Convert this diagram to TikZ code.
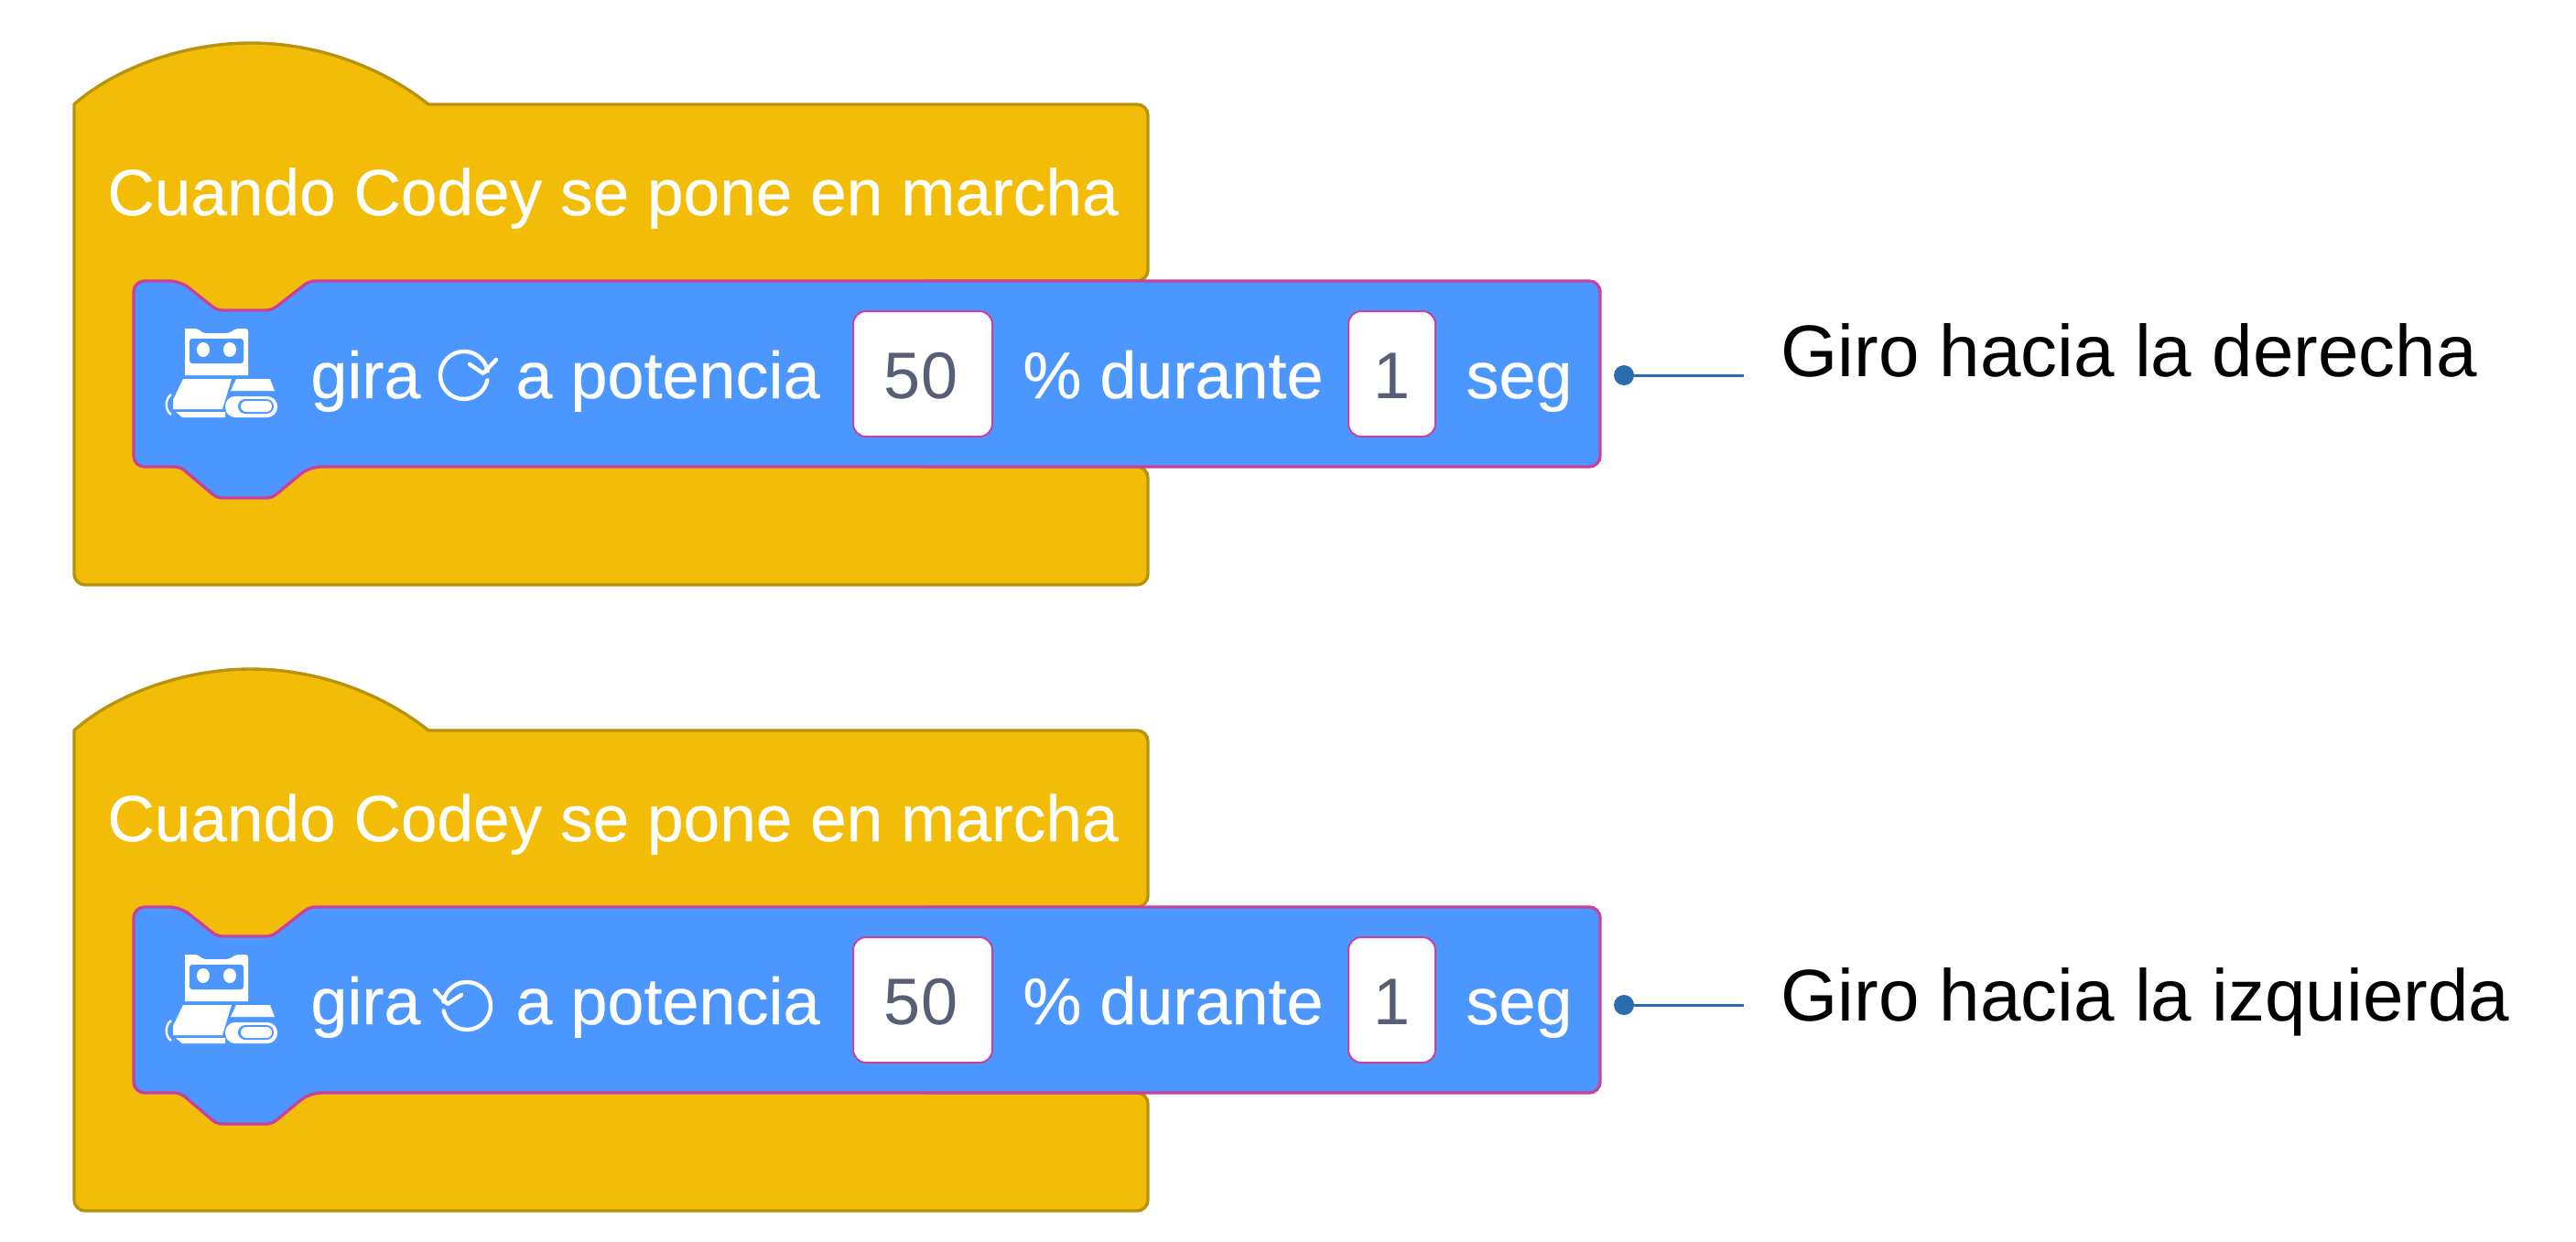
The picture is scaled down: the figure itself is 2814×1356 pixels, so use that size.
\documentclass[tikz,border=0pt]{standalone}
\usepackage{fontspec}
\setmainfont{Liberation Sans}
\definecolor{hatFill}{HTML}{F3BD07}
\definecolor{hatEdge}{HTML}{B8930F}
\definecolor{motionFill}{HTML}{4C97FF}
\definecolor{motionEdge}{HTML}{C7429C}
\definecolor{numberText}{HTML}{575E75}
\definecolor{noteLine}{HTML}{2B6CAF}

\begin{document}
\begin{tikzpicture}[x=0.5pt,y=-0.5pt,%%
  hatStyle/.style={fill=hatFill,draw=hatEdge,line width=1.7pt,rounded corners=6pt},%%
  motionStyle/.style={fill=motionFill,draw=motionEdge,line width=1.7pt,rounded corners=6pt},%%
  blockText/.style={text=white,inner sep=0pt,anchor=base west,font=\fontsize{36}{40}\selectfont\addfontfeature{FakeBold=0.3}},%%
  titleText/.style={blockText,font=\fontsize{35.6}{40}\selectfont},%%
  inputStyle/.style={fill=white,draw=motionEdge,line width=1pt,rounded corners=7pt,inner sep=0pt,minimum height=68.5pt},%%
  numberStyle/.style={text=numberText,inner sep=0pt,anchor=base,font=\fontsize{36}{40}\selectfont},%%
  noteText/.style={inner sep=0pt,anchor=base west,font=\fontsize{40}{44}\selectfont},%%
  noteDot/.style={circle,fill=noteLine,inner sep=0pt,minimum size=11pt},%%
  noteLineStyle/.style={draw=noteLine,line width=1.5pt},%%
  iconStyle/.style={fill=white,draw=none},%%
  iconHole/.style={fill=motionFill,draw=none},%%
  turnStyle/.style={draw=white,line width=2.2pt,line cap=round,line join=round}%%
]
\useasboundingbox (0,0) rectangle (2814,1356);
%%
%% One pass per block: suffix, offset, turn sign and centre, note text and heights.
\foreach \name/\dy/\turn/\turnX/\turnY/\note/\noteY/\dotY in {%
    A/0/1/507/410/Giro hacia la derecha/411/410,%
    B/684/-1/510/415/Giro hacia la izquierda/1115/414}{
\begin{scope}[yshift=-\dy*0.5pt]
%% Yellow hat block; the cut behind the blue block stays hidden.
\draw[hatStyle] (81,114) [sharp corners] .. controls (125,75) and (200,47) .. (274,47)
  .. controls (345,47) and (415,72) .. (468,114) [rounded corners=6pt] -- (1254,114) -- (1254,307)
  -- (1000,307) -- (1000,510) -- (1254,510) -- (1254,639) -- (81,639) [sharp corners] -- cycle;
%% Blue motion block, notch on top and bump below.
\draw[motionStyle] (146,307) -- (197,307) [rounded corners=3pt] -- (237,339) -- (297,339) -- (338,307)
  [rounded corners=6pt] -- (1748,307) -- (1748,510) -- (338,510) [rounded corners=3pt] -- (297,544)
  -- (237,544) -- (197,510) [rounded corners=6pt] -- (146,510) -- cycle;
\node[blockText,font=\fontsize{35.6}{40}\selectfont\addfontfeature{FakeBold=0.3}] (title\name) at (117,235) {Cuando Codey se pone en marcha};
%% Robot icon.
\fill[iconStyle] (202,359) [rounded corners=1.5pt] -- (216,359) -- (222,364) -- (250,364) -- (258,359)
  -- (271,359) [sharp corners] -- (271,410) -- (202,410) -- cycle;
\fill[iconHole,rounded corners=1.5pt] (207,370) rectangle (266,397);
\fill[iconStyle] (222,382) ellipse (7 and 8) (251,382) ellipse (7 and 8);
\fill[iconStyle] (200,414) -- (253,414) -- (243,447) -- (189,447) -- (189,437) -- cycle;
\fill[iconStyle] (192,450) -- (246,450) -- (246,456) -- (199,456) -- cycle;
\draw[white,line width=1.2pt] (187,431) .. controls (180,436) and (180,448) .. (187,453);
\fill[iconStyle] (258,414) -- (295,414) -- (300,427) -- (252,427) -- cycle;
\fill[iconStyle,rounded corners=5.5pt] (246,433) rectangle (303,456);
\fill[iconHole,rounded corners=4pt] (260,436) rectangle (299,452);
\fill[iconStyle,rounded corners=3pt] (263,438) rectangle (297,450);
%% Block words.
\node[blockText] (gira\name) at (339,435) {gira};
\begin{scope}[shift={(\turnX,\turnY)},xscale=\turn]
\draw[turnStyle] (25.4,5.4) arc[start angle=12,delta angle=338,radius=26];
\draw[turnStyle] (6,-12) -- (21,-2) -- (35,-17);
\end{scope}
\node[blockText] (pot\name) at (563,435) {a potencia};
\node[inputStyle,minimum width=76pt] (speed\name) at (1008,408.5) {};
\node[numberStyle] (speedText\name) at (1006,435) {50};
\node[blockText] (dur\name) at (1117,435) {\% durante};
\node[inputStyle,minimum width=47.5pt] (time\name) at (1520.5,408.5) {};
\node[numberStyle] (timeText\name) at (1520,435) {1};
\node[blockText] (seg\name) at (1601,435) {seg};
\end{scope}
%% Note on the right.
\node[noteDot] (dot\name) at (1774,\dotY+\dy) {};
\coordinate (end\name) at (1905,\dotY+\dy);
\draw[noteLineStyle] (dot\name) -- (end\name);
\node[noteText] (note\name) at (1945,\noteY) {\note};
}
\end{tikzpicture}
\end{document}
